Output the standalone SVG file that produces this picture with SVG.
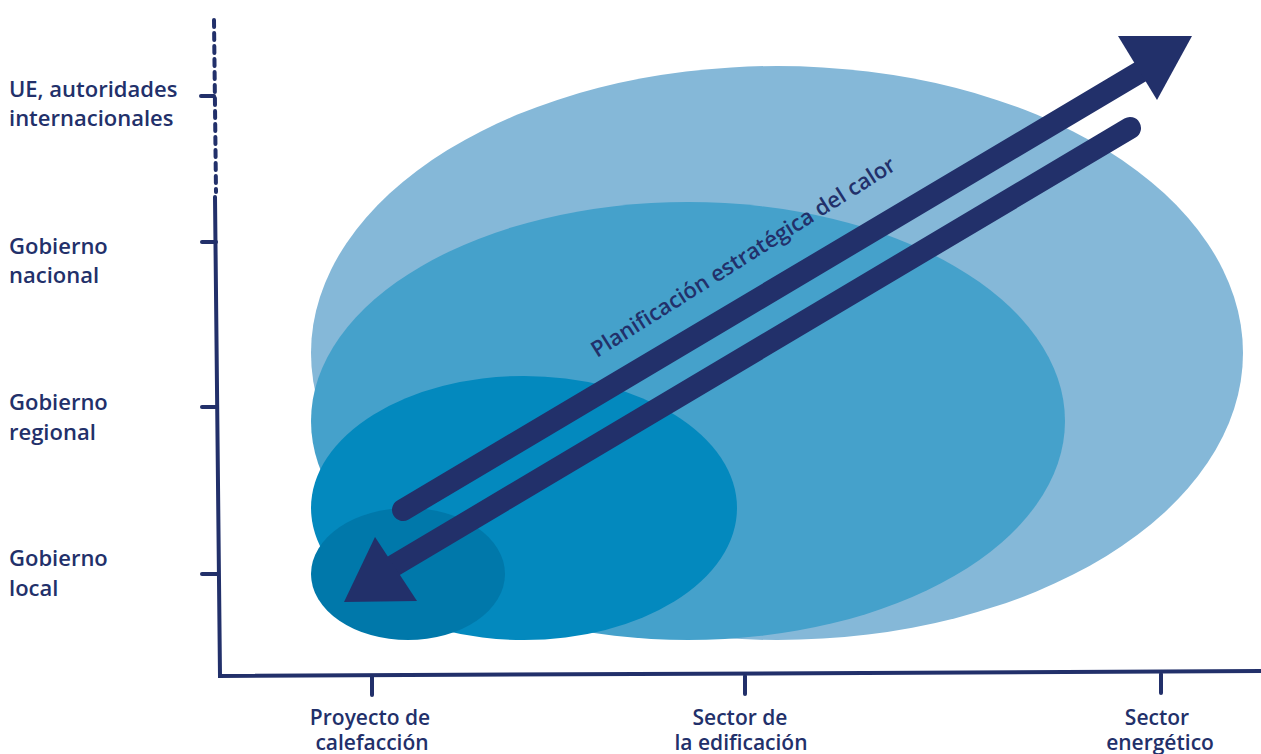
<svg xmlns="http://www.w3.org/2000/svg" width="1261" height="754" viewBox="0 0 1261 754">
<style>
.lbl{font-family:"Open Sans","Liberation Sans",Arial,sans-serif;font-weight:600;font-size:22px;fill:#22306A}
.xl{font-size:21px}
.ax{stroke:#22306A;stroke-width:4;fill:none;stroke-linecap:round}
.arr{stroke:#22306A;stroke-width:22;fill:none;stroke-linecap:round}
</style>
<rect width="1261" height="754" fill="#fff"/>
<g id="ellipses">
<ellipse id="e-energia" cx="777" cy="353" rx="466" ry="287" fill="#85B8D8"/>
<ellipse id="e-edificacion" cx="688" cy="421" rx="377" ry="219" fill="#45A1CB"/>
<ellipse id="e-regional" cx="524" cy="508" rx="213" ry="132" fill="#0389BE"/>
<ellipse id="e-local" cx="408" cy="574" rx="97" ry="66" fill="#0078AA"/>
</g>
<g id="axes">
<line x1="214" y1="20" x2="216" y2="192" class="ax" stroke-width="2.5" stroke-dasharray="7,6" stroke-linecap="butt"/>
<polyline class="ax" points="215,197 220,676 1261,671"/>
<line class="ax" x1="201" y1="96" x2="214" y2="96" stroke-width="2.5"/>
<line class="ax" x1="202" y1="242" x2="216" y2="242"/>
<line class="ax" x1="202" y1="407" x2="217" y2="407"/>
<line class="ax" x1="202" y1="574" x2="218" y2="574"/>
<line class="ax" x1="372" y1="677" x2="372" y2="695"/>
<line class="ax" x1="745" y1="676" x2="745" y2="694"/>
<line class="ax" x1="1161" y1="674" x2="1161" y2="693"/>
</g>
<g id="labels-y">
<text class="lbl" x="9" y="97">UE, autoridades</text>
<text class="lbl" x="9" y="126">internacionales</text>
<text class="lbl" x="9" y="254">Gobierno</text>
<text class="lbl" x="9" y="283">nacional</text>
<text class="lbl" x="9" y="410">Gobierno</text>
<text class="lbl" x="9" y="440">regional</text>
<text class="lbl" x="9" y="566">Gobierno</text>
<text class="lbl" x="9" y="596">local</text>
</g>
<g id="labels-x" text-anchor="middle">
<text class="lbl xl" x="370" y="725">Proyecto de</text>
<text class="lbl xl" x="372" y="750">calefacción</text>
<text class="lbl xl" x="740" y="725">Sector de</text>
<text class="lbl xl" x="741" y="750">la edificación</text>
<text class="lbl xl" x="1157" y="725">Sector</text>
<text class="lbl xl" x="1160" y="750">energético</text>
</g>
<g id="connectors">
<g id="arrow-up">
<line class="arr" x1="403" y1="510" x2="1140" y2="72"/>
<polygon points="1118,36 1192,36 1157,100" fill="#22306A"/>
</g>
<g id="arrow-down">
<line class="arr" x1="1130" y1="128" x2="395" y2="565"/>
<polygon points="375,537 344,602 417,601" fill="#22306A"/>
</g>
</g>
<text class="lbl" x="0" y="0" font-size="21" font-weight="bold" transform="translate(597,358) rotate(-32.2)">Planificación estratégica del calor</text>
</svg>
